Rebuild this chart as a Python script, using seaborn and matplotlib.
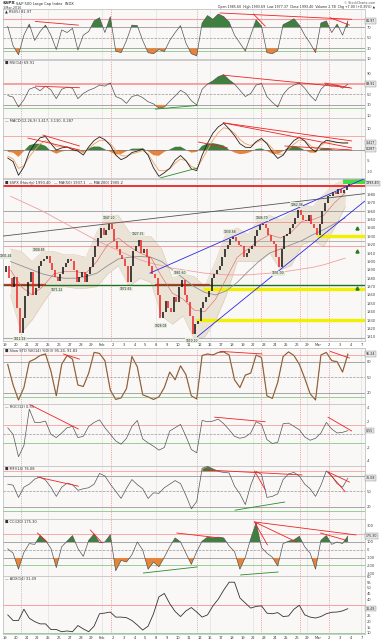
import numpy as np
import seaborn as sns
import matplotlib.pyplot as plt
from matplotlib.patches import Rectangle

sns.set_theme(style="white")
plt.rcParams['font.family'] = ['DejaVu Sans']

# x axis: trading days 19-Jan-2016 .. 7-Mar-2016
day_labels = ['19', '20', '21', '22', '25', '26', '27', '28', '29', 'Feb', '2', '3', '4', '5',
              '8', '9', '10', '11', '12', '16', '17', '18', '19', '22', '23', '24', '25', '26',
              '29', 'Mar', '2', '3', '4', '7']

# $SPX quarter-day closes
spx_close = [1895, 1880, 1870, 1881, 1845, 1815, 1832, 1859, 1875, 1888, 1860, 1868,
             1895, 1900, 1903, 1907, 1898, 1890, 1882, 1877, 1885, 1893, 1898, 1903,
             1900, 1890, 1875, 1882, 1888, 1875, 1885, 1893, 1905, 1918, 1928, 1940,
             1932, 1937, 1945, 1939, 1925, 1915, 1908, 1903, 1895, 1876, 1895, 1912,
             1918, 1926, 1910, 1915, 1905, 1895, 1885, 1880, 1860, 1832, 1840, 1853,
             1845, 1840, 1858, 1852, 1870, 1878, 1860, 1852, 1835, 1813, 1825, 1829,
             1845, 1852, 1858, 1865, 1880, 1885, 1890, 1895, 1905, 1915, 1920, 1927,
             1929, 1925, 1920, 1918, 1905, 1910, 1915, 1918, 1930, 1938, 1943, 1945,
             1940, 1932, 1925, 1921, 1905, 1893, 1915, 1930, 1933, 1940, 1945, 1952,
             1962, 1955, 1950, 1948, 1955, 1945, 1940, 1932, 1945, 1960, 1970, 1978,
             1978, 1983, 1980, 1986, 1982, 1985, 1990, 1993]
spx_open_first = 1888

# daily overlays
bb_upper = [1915, 1912, 1900, 1912, 1912, 1908, 1908, 1905, 1935, 1955, 1955, 1935, 1930, 1930,
            1915, 1880, 1885, 1882, 1870, 1900, 1935, 1940, 1932, 1950, 1955, 1950, 1958, 1968,
            1965, 1980, 1992, 1998]
bb_lower = [1860, 1815, 1830, 1850, 1868, 1870, 1868, 1868, 1870, 1885, 1895, 1870, 1880, 1875,
            1835, 1825, 1835, 1808, 1810, 1830, 1860, 1900, 1900, 1900, 1910, 1890, 1895, 1920,
            1925, 1918, 1940, 1965]
ma_fast = [1890, 1870, 1860, 1870, 1885, 1888, 1888, 1886, 1900, 1920, 1928, 1918, 1910, 1905,
           1882, 1862, 1855, 1842, 1840, 1855, 1880, 1905, 1915, 1925, 1932, 1928, 1935, 1948,
           1950, 1955, 1970, 1982]
ma_mid = [1900, 1895, 1890, 1885, 1882, 1880, 1880, 1882, 1886, 1895, 1903, 1905, 1906, 1905,
          1900, 1890, 1880, 1870, 1863, 1860, 1865, 1875, 1888, 1900, 1910, 1915, 1920, 1925,
          1932, 1938, 1945, 1952]
ma_slow = [1978, 1972, 1966, 1960, 1953, 1946, 1939, 1932, 1925, 1919, 1913, 1907, 1902, 1898,
           1895, 1892, 1890, 1888, 1886, 1885, 1884, 1884, 1884, 1885, 1886, 1887, 1889, 1891,
           1893, 1896, 1900, 1904]

pivot_x = [0.1, 1.4, 3.1, 4.8, 9.6, 11.2, 12.3, 14.4, 16.2, 17.3, 20.8, 23.8, 25.3, 27.0]
pivot_y = [1901.44, 1812.29, 1908.85, 1871.22, 1947.20, 1872.65, 1927.35, 1828.08, 1881.60,
           1810.10, 1930.68, 1946.70, 1891.00, 1962.96]
pivot_kind = ['H', 'L', 'H', 'L', 'H', 'L', 'H', 'L', 'H', 'L', 'H', 'H', 'L', 'H']

# half-day indicator readings
rsi5 = [72, 35, 18, 55, 76, 45, 62, 74, 55, 28, 65, 60, 68, 27, 55, 62, 82, 88, 60, 90, 25, 22,
        45, 74, 73, 45, 22, 20, 28, 24, 45, 60, 73, 40, 20, 16, 78, 92, 85, 95, 90, 80, 55, 40,
        25, 55, 84, 72, 22, 20, 26, 75, 80, 86, 74, 55, 40, 22, 78, 82, 60, 76, 55, 82]
rsi14 = [48, 45, 26, 40, 60, 64, 57, 66, 59, 42, 60, 64, 62, 42, 52, 58, 62, 68, 66, 72, 46, 42,
         33, 46, 49, 44, 36, 32, 24, 26, 37, 47, 58, 52, 38, 30, 60, 70, 76, 84, 88, 78, 70, 58,
         46, 52, 68, 71, 46, 35, 26, 50, 62, 68, 72, 62, 48, 38, 60, 70, 66, 68, 62, 69.9]
macd = [-3.8, -5.5, -12, -8, -1, 3, 5.8, 6.4, 3, 0, 1, 1.4, 0.2, -0.5, -2.4, 1.5, 4.5, 6.2, 4.9,
        2.2, -2.4, -4.6, -3.4, -1.2, -0.5, 0.5, -2.5, -8.5, -12.5, -10.8, -8.7, -4.8, -2.6, -5.0,
        -9, -9.8, -2.5, 3.2, 8, 11, 12.7, 10, 6.8, 3, 1.3, 1.2, 4, 5.5, 3, -1, -4, -2.5, 1.5, 4.5,
        6, 4.3, 1, -0.8, 2.8, 4.6, 4.2, 3.6, 3.3, 3.4]
macd_signal = [-2.9, -4.25, -8.75, -7.5, -3.25, 0, 2.9, 4.45, 3.5, 1.75, 1.75, 1.6, 0.7, 0.05,
               -1.4, 0.65, 2.85, 4.6, 4.55, 3.1, -0.2, -2.7, -2.85, -1.85, -1.15, -0.25, -1.9,
               -6, -9.75, -9.9, -8.95, -6.3, -4.2, -5.15, -7.75, -8.9, -4.5, 0.1, 4.75, 8.25,
               10.6, 9.9, 8, 5, 3, 2.1, 3.5, 4.75, 3.5, 0.75, -2, -2, 0.25, 2.75, 4.75, 4.4,
               2.25, 0.5, 2.15, 3.7, 3.9, 3.7, 3.45, 3.1]
sto = [75, 35, 6, 30, 80, 85, 92, 95, 62, 14, 75, 92, 85, 35, 32, 58, 98, 96, 82, 25, 7, 10, 28,
       90, 70, 16, 12, 7, 12, 30, 60, 45, 72, 55, 14, 8, 92, 95, 93, 98, 99, 93, 45, 30, 54, 58,
       93, 88, 14, 9, 40, 90, 99, 92, 75, 48, 18, 6, 93, 98, 82, 80, 60, 95]
roc = [1.0, 0.0, -3.4, -1.7, 3.8, 1.8, 1.8, 2.0, 0.0, -0.5, 0.2, 1.0, 1.2, -0.5, -0.3, 1.2, 1.8,
       2.2, 1.0, 0.0, -1.0, -1.5, -0.6, 1.2, 2.1, -0.7, -1.3, -1.8, -2.4, -2.0, 0.5, 1.0, 1.5,
       -0.3, -2.3, -2.8, 2.1, 1.9, 2.0, 2.3, 1.6, 0.7, -0.3, -0.6, -0.4, 0.2, 1.9, 1.5, -0.8,
       -1.4, -1.2, 1.6, 1.7, 1.2, 0.7, -0.4, -0.9, -0.6, 0.2, 1.8, 0.8, 0.2, 0.3, 0.55]
mfi = [64, 62, 38, 58, 64, 74, 78, 72, 58, 40, 58, 66, 63, 52, 55, 57, 64, 85, 80, 64, 50, 36,
       56, 73, 63, 55, 36, 47, 46, 57, 64, 71, 65, 42, 16, 30, 95, 99, 94, 89, 87, 86, 60, 45,
       24, 62, 89, 83, 38, 40, 45, 73, 84, 87, 80, 64, 55, 40, 62, 90, 80, 65, 58, 76]
cci = [15, -40, -240, -30, 80, 70, 180, 120, 20, -220, 40, 110, 180, 20, -80, 120, 200, 90, 100,
       190, -260, -130, -150, -60, 100, 0, -240, -150, -210, -90, 40, 150, 100, -40, -180, -20,
       110, 160, 150, 160, 150, 50, -20, -240, -90, 140, 340, 30, -40, -90, -200, 80, 110, 125,
       170, 40, -40, -240, 120, 180, 70, 100, 80, 175]
adx = [26, 21, 21, 31, 23, 20, 18, 18, 13, 13, 11, 11.7, 11, 16.5, 13.5, 11, 16, 27, 27.6, 28.5,
       24, 24, 23.5, 21, 17, 12.5, 16, 27, 42, 45, 36, 29, 24.5, 29.5, 32.5, 28.5, 24, 26, 34, 40,
       48, 55, 55, 41, 36.5, 32, 33.5, 34, 27.5, 27, 28, 24.5, 25, 31, 34.5, 26, 24, 23.2, 24.5,
       27, 28.3, 28.5, 29.5, 31.5]

# hand drawn trend lines, (day, value) end points
rsi5_red = [((2.8, 81), (6.8, 74)), ((19.9, 97), (32.1, 85)), ((23.0, 95), (24.1, 72)),
            ((30.1, 88), (31.9, 74))]
rsi14_red = [((2.8, 66), (6.9, 63)), ((20.2, 87), (31.9, 63)), ((29.6, 72), (32.1, 62))]
rsi14_green = [((13.9, 22), (17.8, 29))]
macd_red = [((2.1, 5.7), (6.9, 0)), ((3.5, 7.1), (6.9, 1.9)), ((20.2, 12.9), (32.1, 4.3)),
            ((20.2, 12.9), (32.1, 1)), ((25.9, 1.9), (32.1, 0)), ((17.9, 3.8), (20.6, 1))]
macd_green = [((14.35, -13.3), (17.8, -8.6))]
price_blue = [((13.4, 1886), (33.3, 1999)), ((17.8, 1810), (33.3, 1972))]
price_gray = [((-0.4, 1930), (33.3, 1981))]
sto_red = [((5.4, 95), (6.9, 85)), ((19.9, 100), (23.8, 95)), ((30.1, 100), (31.9, 87))]
roc_red = [((2.3, 4.5), (6.8, 0.8)), ((19.4, 2.6), (24.1, 1.9)), ((29.9, 2.6), (32.1, 0.5))]
mfi_red = [((3.0, 78), (6.8, 60)), ((18.5, 92), (27.5, 82)), ((23.1, 90), (24.1, 53)),
           ((29.9, 88), (31.9, 68)), ((29.9, 88), (31.5, 49))]
mfi_green = [((21.3, 13), (25.9, 29))]
cci_red = [((3.0, 212), (3.9, 100)), ((7.9, 250), (9.0, 88)), ((15.9, 212), (19.9, 150)),
           ((23.1, 350), (32.5, 188)), ((23.1, 350), (24.3, 62)), ((23.1, 350), (27.0, 100)),
           ((29.2, 212), (31.5, 125))]
cci_green = [((12.8, -288), (17.8, -212)), ((21.8, -312), (25.3, -275))]

x_q = np.arange(len(spx_close)) * 0.25 + 0.125
x_h = np.arange(len(rsi5)) * 0.5 + 0.25
x_d = np.arange(len(bb_upper)) + 0.5

W, H = 382, 640
GREEN = '#3f7f3f'
ORANGE = '#e8843a'
RED = '#ee2222'
fig = plt.figure(figsize=(W / 100, H / 100), dpi=100)
fig.patch.set_facecolor('white')


def panel(top, bottom, ylim, label, yticks):
    ax = fig.add_axes([3 / W, 1 - bottom / H, 362 / W, (bottom - top) / H])
    ax.set_facecolor('#faf7f7')
    ax.set_xlim(-0.185, 33.33)
    ax.set_ylim(*ylim)
    ax.yaxis.tick_right()
    ax.set_yticks(yticks)
    ax.set_yticklabels([f'{t:g}' for t in yticks])
    ax.tick_params(axis='y', labelsize=2.6, length=0, pad=1.5, colors='#444444')
    ax.set_xticks(range(len(day_labels)))
    ax.set_xticklabels([])
    ax.tick_params(axis='x', length=0)
    for s in ax.spines.values():
        s.set_color('#b8b8b8')
        s.set_linewidth(0.5)
    for d in [4, 9, 14, 19, 23, 28, 33]:
        ax.axvline(d, color='#dddddd', lw=0.4, zorder=0)
    for d in [9.8, 23.7, 27.3, 30.0]:
        ax.axvline(d, color='#ee6666', lw=0.4, ls=(0, (2, 2)), zorder=0)
    for d in [1.5, 17.8]:
        ax.axvline(d, color='#999999', lw=0.4, ls=(0, (2, 2)), zorder=0)
    ax.text(0.006, 0.985, label, transform=ax.transAxes, fontsize=2.6, va='top',
            color='#333333')
    ax.set_xlabel('')
    ax.set_ylabel('')
    return ax


def trend(ax, segs, color):
    for (x0, y0), (x1, y1) in segs:
        ax.plot([x0, x1], [y0, y1], color=color, lw=0.6, zorder=4)


def box_value(ax, y, text):
    # the value box sits on the axis and hides the tick labels right behind it
    y0, y1 = ax.get_ylim()
    tol = 6 * (y1 - y0) / (ax.get_position().height * H)
    ticks = [t for t in ax.get_yticks() if abs(t - y) > tol]
    ax.set_yticks(ticks)
    ax.set_yticklabels([f'{t:g}' for t in ticks])
    ax.set_ylim(y0, y1)
    ax.text(33.4, y, text, fontsize=2.3, va='center', ha='left', clip_on=False,
            bbox=dict(boxstyle='square,pad=0.2', fc='#e6e6e6', ec='#888888', lw=0.3))


def oscillator(ax, x, y, hi, lo, lines):
    y = np.array(y, dtype=float)
    for lvl, col, lw, ls in lines:
        ax.axhline(lvl, color=col, lw=lw, ls=ls, zorder=1)
    ax.fill_between(x, y, hi, where=y > hi, interpolate=True, color=GREEN, lw=0, zorder=2)
    ax.fill_between(x, y, lo, where=y < lo, interpolate=True, color=ORANGE, lw=0, zorder=2)
    sns.lineplot(x=x, y=y, ax=ax, color='#555555', lw=0.5, zorder=3)


# header
fig.text(3 / W, 1 - 1 / H, '$SPX', fontsize=3.2, fontweight='bold', va='top')
fig.text(16 / W, 1 - 1.5 / H, 'S&P 500 Large Cap Index  INDX', fontsize=2.6, va='top')
fig.text(3 / W, 1 - 6 / H, '3-Mar-2016', fontsize=2.4, va='top', color='#444444')
fig.text(375 / W, 1 - 0.5 / H, '© StockCharts.com', fontsize=2.3, va='top', ha='right',
         color='#555555')
fig.text(375 / W, 1 - 5 / H,
         'Open 1985.60  High 1993.69  Low 1977.37  Close 1993.40  Volume 2.7B  Chg +7.00 (+0.35%) ▲',
         fontsize=2.3, va='top', ha='right')

# RSI(5)
ax1 = panel(9, 59, (12, 104.5), '▲ RSI(5) 81.97', [10, 30, 50, 70, 90])
oscillator(ax1, x_h, rsi5, 70, 30,
           [(85, '#f4a0a0', 0.8, '-'), (70, '#999999', 0.6, '-'), (50, '#999999', 0.5, '--'),
            (30, '#999999', 0.6, '-'), (25, '#88c888', 0.6, '-')])
trend(ax1, rsi5_red, RED)
box_value(ax1, rsi5[-1], '81.97')

# RSI(14)
ax2 = panel(60, 118, (5, 116), '■ RSI(14) 69.91', [10, 30, 50, 70, 90])
oscillator(ax2, x_h, rsi14, 70, 30,
           [(70, '#f4a0a0', 1.4, '-'), (50, '#999999', 0.5, '--'), (30, '#999999', 0.6, '-'),
            (24, '#88c888', 0.6, '-')])
trend(ax2, rsi14_red, RED)
trend(ax2, rsi14_green, '#2a8a2a')
box_value(ax2, rsi14[-1], '69.91')

# MACD
ax3 = panel(118, 178, (-13.3, 15.2), '— MACD(12,26,9) 3.417, 3.130, 0.287', [-10, -5, 0, 5, 10])
macd_hist = np.array(macd) - np.array(macd_signal)
ax3.axhline(6.7, color='#f4a0a0', lw=0.6)
ax3.axhline(0, color='#777777', lw=0.5)
ax3.fill_between(x_h, macd_hist, 0, where=macd_hist > 0, interpolate=True, color=GREEN, lw=0)
ax3.fill_between(x_h, macd_hist, 0, where=macd_hist < 0, interpolate=True, color=ORANGE, lw=0)
sns.lineplot(x=x_h, y=macd_signal, ax=ax3, color='#f0a060', lw=0.6)
sns.lineplot(x=x_h, y=macd, ax=ax3, color='#222222', lw=0.6)
trend(ax3, macd_red, RED)
trend(ax3, macd_green, '#2a8a2a')
box_value(ax3, 3.417, '3.417')
box_value(ax3, 0.287, '0.287')

# price
ax4 = panel(179, 341, (1805, 1998.5),
            '■ $SPX (Hourly) 1993.40   — MA(50) 1937.1   — MA(200) 1905.2',
            list(range(1810, 2000, 10)))
ax4.set_xticklabels(day_labels)
ax4.tick_params(axis='x', labelsize=2.6, pad=1.2, colors='#333333')
ax4.fill_between(x_d, bb_lower, bb_upper, color='#ebe3d6', lw=0, zorder=1)
sns.lineplot(x=x_d, y=bb_upper, ax=ax4, color='#d8ccb8', lw=0.4, zorder=1)
sns.lineplot(x=x_d, y=bb_lower, ax=ax4, color='#d8ccb8', lw=0.4, zorder=1)
for lvl, col, lw in [(1990, RED, 1.3), (1960, '#999999', 0.6), (1947, '#f08080', 0.5),
                     (1924, '#999999', 0.5), (1918, '#f08080', 0.5), (1872, '#1f6f1f', 1.0),
                     (1808, '#aaaaaa', 0.8)]:
    ax4.axhline(lvl, color=col, lw=lw, zorder=1)
ax4.plot([-0.2, 3.7], [1872.5, 1872.5], color=RED, lw=0.9, zorder=2)
ax4.plot([13.9, 18.9], [1872.5, 1872.5], color=RED, lw=0.9, zorder=2)
for lvl, x0 in [(1867, 18.3), (1830, 17.7), (1931, 28.9)]:
    ax4.plot([x0, 33.33], [lvl, lvl], color='#f0f000', lw=2.4, solid_capstyle='butt', zorder=2)
ax4.add_patch(Rectangle((31.3, 1993), 2.1, 6, color='#44dd44', lw=0, zorder=2))
sns.lineplot(x=x_d, y=ma_slow, ax=ax4, color='#f0a0a0', lw=0.6, zorder=2)
sns.lineplot(x=x_d, y=ma_mid, ax=ax4, color='#909090', lw=0.6, zorder=2)
sns.lineplot(x=x_d, y=ma_fast, ax=ax4, color='#e06060', lw=0.4, zorder=2)
trend(ax4, price_gray, '#555555')
trend(ax4, price_blue, '#2a2ae0')
opens = [spx_open_first] + spx_close[:-1]
for xq, o, c in zip(x_q, opens, spx_close):
    col = RED if c < o else '#111111'
    lo, hi = min(o, c), max(o, c)
    if hi - lo < 1:
        hi = lo + 1
    ax4.vlines(xq, lo, hi, color=col, lw=1.1, zorder=3)
for px, py, k in zip(pivot_x, pivot_y, pivot_kind):
    off = 5 if k == 'H' else -5
    ax4.text(px, py + off, f'{py:.2f}', fontsize=2.2, ha='center', va='center', zorder=5,
             bbox=dict(boxstyle='square,pad=0.15', fc='#e4ecdc', ec='none'))
for py in [1940, 1913, 1868]:
    ax4.plot(32.6, py, marker='^', color='#1f7f1f', ms=2.2, zorder=5)
box_value(ax4, 1993.4, '1993.40')

# Slow STO
ax5 = panel(348, 404, (-1.8, 106.5), '■ Slow STO %K(14) %D(3) 95.24, 91.83', [20, 50, 80])
oscillator(ax5, x_h, sto, 200, -200,
           [(93, '#f4a0a0', 0.6, '-'), (80, '#999999', 0.6, '-'), (50, '#999999', 0.5, '--'),
            (20, '#999999', 0.6, '-'), (11, '#88c888', 0.6, '-')])
sns.lineplot(x=x_h, y=sto, ax=ax5, color='#e8a060', lw=1.0, zorder=2)
trend(ax5, sto_red, RED)
box_value(ax5, sto[-1], '95.24')

# ROC
ax6 = panel(404, 466, (-4.8, 4.59), '— ROC(12) 0.55', [-4, -2, 0, 2, 4])
oscillator(ax6, x_h, roc, 50, -50,
           [(1.4, '#f4a0a0', 0.6, '-'), (0, '#999999', 0.5, '--'), (-1.35, '#88c888', 0.6, '-')])
trend(ax6, roc_red, RED)
box_value(ax6, roc[-1], '0.55')

# MFI
ax7 = panel(466, 519, (-4.3, 99.6), '■ MFI(14) 76.08', [20, 50, 80])
oscillator(ax7, x_h, mfi, 90, 20,
           [(90, '#f4a0a0', 0.6, '-'), (80, '#999999', 0.6, '-'), (50, '#999999', 0.5, '--'),
            (20, '#999999', 0.6, '-'), (12, '#88c888', 0.6, '-')])
trend(ax7, mfi_red, RED)
trend(ax7, mfi_green, '#2a8a2a')
box_value(ax7, mfi[-1], '76.08')

# CCI
ax8 = panel(519, 576, (-325, 387), '■ CCI(20) 175.30', [-300, -200, -100, 0, 100, 200, 300])
oscillator(ax8, x_h, cci, 100, -100,
           [(200, '#f4a0a0', 0.6, '-'), (100, '#999999', 0.6, '-'), (0, '#999999', 0.5, '--'),
            (-100, '#999999', 0.6, '-'), (-190, '#88c888', 0.6, '-')])
trend(ax8, cci_red, RED)
trend(ax8, cci_green, '#2a8a2a')
box_value(ax8, cci[-1], '175.30')

# ADX
ax9 = panel(576, 634, (9, 60.5), '— ADX(14) 31.49', [10, 15, 20, 25, 30, 35, 40, 45, 50, 55, 60])
ax9.axhline(35, color='#f4a0a0', lw=0.7)
ax9.axhline(10.3, color='#88c888', lw=0.6)
sns.lineplot(x=x_h, y=adx, ax=ax9, color='#333333', lw=0.6)
ax9.set_xticklabels(day_labels)
ax9.tick_params(axis='x', labelsize=2.6, pad=1.2, colors='#333333')
box_value(ax9, adx[-1], '31.49')

fig.savefig('out.png', dpi=100, facecolor='white')
